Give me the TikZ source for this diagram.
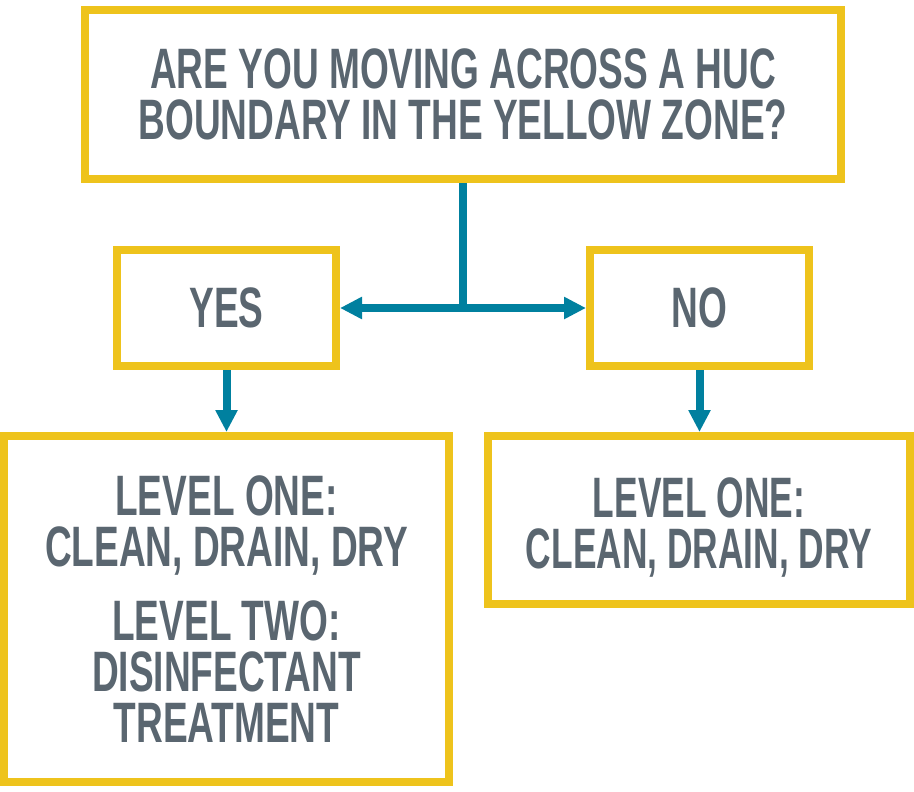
\documentclass[tikz,border=0pt]{standalone}
\usepackage{fontspec}
\setmainfont{Liberation Sans}[FakeStretch=0.65]
\newfontfamily\narrowfont{Liberation Sans}[FakeStretch=0.62]
\usetikzlibrary{arrows.meta}
\definecolor{hucyellow}{HTML}{EEC31C}
\definecolor{hucteal}{HTML}{00809F}
\definecolor{hucgray}{HTML}{5A6670}
\tikzset{
    box/.style={draw=hucyellow, line width=8pt, align=center, text=hucgray,
        font=\bfseries\fontsize{57}{51}\selectfont, inner sep=0pt},
    flow/.style={draw=hucteal, line width=8pt, -{Triangle[length=22pt,width=21pt]}}
}
\begin{document}
\begin{tikzpicture}[x=1pt,y=-1pt]

    \useasboundingbox (0,0) rectangle (914,792);

    %% Question
    \node[box, minimum width=756pt, minimum height=169pt] (q) at (463,94.5)
        {ARE YOU MOVING ACROSS A HUC\\BOUNDARY IN THE YELLOW ZONE?};

    %% Answers
    \node[box, minimum width=219pt, minimum height=116pt] (yes) at (226.5,308) {YES};
    \node[box, minimum width=219pt, minimum height=116pt] (no) at (699.5,308) {NO};

    %% Levels
    \node[box, minimum width=445pt, minimum height=346pt] (lvyes) at (226.5,609)
        {LEVEL ONE:\\CLEAN, DRAIN, DRY\\[23pt]LEVEL TWO:\\DISINFECTANT\\TREATMENT};
    \node[box, minimum width=422pt, minimum height=168pt,
        font=\narrowfont\bfseries\fontsize{57}{51}\selectfont] (lvno) at (699,520)
        {\rule{0pt}{54pt}LEVEL ONE:\\CLEAN, DRAIN, DRY};

    % Split
    \draw[flow, -] (q.south) -- (q.south |- yes.east);
    \draw[flow, {Triangle[length=22pt,width=21pt]}-{Triangle[length=22pt,width=21pt]}] (yes.east) -- (no.west);

    % Down arrows
    \draw[flow] (yes.south) -- (lvyes.north);
    \draw[flow] (no.south) -- (no.south |- lvno.north);

\end{tikzpicture}
\end{document}
